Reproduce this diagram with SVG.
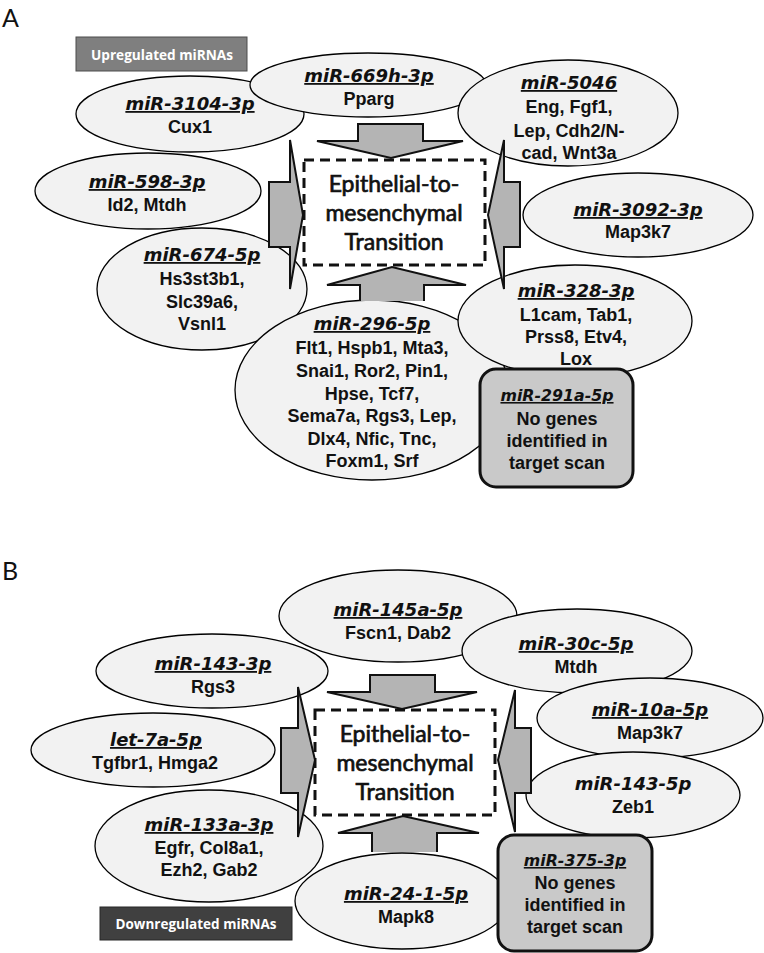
<svg xmlns="http://www.w3.org/2000/svg" width="764" height="953" viewBox="0 0 764 953">
<style>
.bg{fill:#ffffff}
.ell{fill:#f2f2f2;stroke:#000;stroke-width:1.3}
.nbox{fill:#c9c9c9;stroke:#111;stroke-width:3}
.emt{fill:#fff;stroke:#111;stroke-width:3;stroke-dasharray:10 6}
.arr{fill:#b4b4b4;stroke:#111;stroke-width:2;stroke-linejoin:miter}
.t{font-family:"DejaVu Sans",sans-serif;font-weight:bold;font-style:oblique;font-size:18px;fill:#111;text-anchor:middle;text-decoration:underline}
.tn{text-decoration:none}
.ts{font-size:15.8px}
.g{font-family:"Liberation Sans",Arial,sans-serif;font-weight:bold;font-size:18px;fill:#111;text-anchor:middle}
.c{font-family:Lato,"Open Sans",sans-serif;font-size:23px;fill:#111;stroke:#111;stroke-width:0.7;text-anchor:middle}
.lab{font-family:"Open Sans",Lato,sans-serif;font-weight:bold;font-size:14.5px;fill:#fff;text-anchor:middle}
.pl{font-family:Lato,"Open Sans",sans-serif;font-size:25px;fill:#111}
</style>
<rect class="bg" x="0" y="0" width="764" height="953"/>
<text class="pl" x="2" y="27">A</text>
<text class="pl" x="2" y="580">B</text>

<g id="up-label"><rect x="76" y="37" width="171" height="34" fill="#7f7f7f" stroke="#4d4d4d" stroke-width="1"/><text class="lab" x="162" y="60" textLength="142" lengthAdjust="spacingAndGlyphs">Upregulated miRNAs</text></g>
<g id="down-label"><rect x="100" y="907" width="192" height="33" fill="#404040" stroke="#262626" stroke-width="1"/><text class="lab" x="196" y="929" textLength="161" lengthAdjust="spacingAndGlyphs">Downregulated miRNAs</text></g>

<!-- Panel A nodes -->
<g id="A-emt"><rect class="emt" x="304" y="160" width="181" height="105"/><text class="c" x="394" y="192">Epithelial-to-</text><text class="c" x="394" y="221">mesenchymal</text><text class="c" x="394" y="250">Transition</text></g>
<g id="A-miR-3104-3p"><ellipse class="ell" cx="190" cy="114" rx="114" ry="38"/><text class="t" x="190" y="110">miR-3104-3p</text><text class="g" x="190" y="133">Cux1</text></g>
<g id="A-miR-669h-3p"><ellipse class="ell" cx="368" cy="85" rx="118" ry="32"/><text class="t" x="369" y="82">miR-669h-3p</text><text class="g" x="369" y="105">Pparg</text></g>
<g id="A-miR-5046"><ellipse class="ell" cx="568" cy="113" rx="110" ry="53"/><text class="t" x="569" y="89">miR-5046</text><text class="g" x="569" y="113">Eng, Fgf1,</text><text class="g" x="569" y="137">Lep, Cdh2/N-</text><text class="g" x="569" y="159">cad, Wnt3a</text></g>
<g id="A-miR-598-3p"><ellipse class="ell" cx="148" cy="191" rx="113" ry="38"/><text class="t" x="147" y="188">miR-598-3p</text><text class="g" x="147" y="211">Id2, Mtdh</text></g>
<g id="A-miR-3092-3p"><ellipse class="ell" cx="638" cy="215" rx="115" ry="42"/><text class="t" x="638" y="216">miR-3092-3p</text><text class="g" x="638" y="238">Map3k7</text></g>
<g id="A-miR-674-5p"><ellipse class="ell" cx="202" cy="289" rx="105" ry="61"/><text class="t" x="202" y="261">miR-674-5p</text><text class="g" x="202" y="285">Hs3st3b1,</text><text class="g" x="202" y="308">Slc39a6,</text><text class="g" x="202" y="330">Vsnl1</text></g>
<g id="A-miR-296-5p"><ellipse class="ell" cx="372" cy="390" rx="137" ry="90"/><text class="t" x="372" y="330">miR-296-5p</text><text class="g" x="372" y="354">Flt1, Hspb1, Mta3,</text><text class="g" x="372" y="377">Snai1, Ror2, Pin1,</text><text class="g" x="372" y="400">Hpse, Tcf7,</text><text class="g" x="372" y="422">Sema7a, Rgs3, Lep,</text><text class="g" x="372" y="445">Dlx4, Nfic, Tnc,</text><text class="g" x="372" y="467">Foxm1, Srf</text></g>
<g id="A-miR-328-3p"><ellipse class="ell" cx="575" cy="321" rx="117" ry="56"/><text class="t" x="576" y="297">miR-328-3p</text><text class="g" x="576" y="321">L1cam, Tab1,</text><text class="g" x="576" y="343">Prss8, Etv4,</text><text class="g" x="576" y="365">Lox</text></g>
<g id="A-miR-291a-5p"><rect class="nbox" x="480" y="369" width="153" height="118" rx="16"/><text class="t ts" x="557" y="401">miR-291a-5p</text><text class="g" x="557" y="425">No genes</text><text class="g" x="557" y="447">identified in</text><text class="g" x="557" y="469">target scan</text></g>

<!-- Panel B nodes -->
<g id="B-emt"><rect class="emt" x="315" y="710" width="180" height="105"/><text class="c" x="405" y="742">Epithelial-to-</text><text class="c" x="405" y="771">mesenchymal</text><text class="c" x="405" y="800">Transition</text></g>
<g id="B-miR-143-3p"><ellipse class="ell" cx="212" cy="671" rx="116" ry="37"/><text class="t" x="213" y="670">miR-143-3p</text><text class="g" x="213" y="693">Rgs3</text></g>
<g id="B-miR-145a-5p"><ellipse class="ell" cx="398" cy="616" rx="119" ry="46"/><text class="t" x="398" y="616">miR-145a-5p</text><text class="g" x="398" y="639">Fscn1, Dab2</text></g>
<g id="B-miR-30c-5p"><ellipse class="ell" cx="577" cy="651" rx="115" ry="42"/><text class="t" x="576" y="650">miR-30c-5p</text><text class="g" x="576" y="673">Mtdh</text></g>
<g id="B-miR-10a-5p"><ellipse class="ell" cx="650" cy="718" rx="113" ry="40"/><text class="t" x="650" y="716">miR-10a-5p</text><text class="g" x="650" y="739">Map3k7</text></g>
<g id="B-miR-143-5p"><ellipse class="ell" cx="633" cy="795" rx="107" ry="43"/><text class="t tn" x="633" y="790">miR-143-5p</text><text class="g" x="633" y="813">Zeb1</text></g>
<g id="B-let-7a-5p"><ellipse class="ell" cx="153" cy="750" rx="122" ry="37"/><text class="t" x="156" y="746">let-7a-5p</text><text class="g" x="155" y="769">Tgfbr1, Hmga2</text></g>
<g id="B-miR-133a-3p"><ellipse class="ell" cx="209" cy="846" rx="114" ry="56"/><text class="t" x="209" y="831">miR-133a-3p</text><text class="g" x="209" y="854">Egfr, Col8a1,</text><text class="g" x="209" y="876">Ezh2, Gab2</text></g>
<g id="B-miR-24-1-5p"><ellipse class="ell" cx="402" cy="901" rx="107" ry="48"/><text class="t" x="406" y="900">miR-24-1-5p</text><text class="g" x="406" y="923">Mapk8</text></g>
<g id="B-miR-375-3p"><rect class="nbox" x="498" y="835" width="154" height="116" rx="16"/><text class="t ts" x="575" y="866">miR-375-3p</text><text class="g" x="575" y="889">No genes</text><text class="g" x="575" y="911">identified in</text><text class="g" x="575" y="933">target scan</text></g>

<g id="connectors">
<path class="arr" d="M358,124 H423 V141 H463 L391,158 L317,141 H358 Z"/>
<path class="arr" d="M269,182 H290 V140 L303,215 L290,289 V247 H269 Z"/>
<path class="arr" d="M520,182 H504 V140 L488,215 L504,289 V247 H520 Z"/>
<path class="arr" d="M360,301 V285 H327 L392,267 L466,285 H424 V301"/>
<path class="arr" d="M370,675 H435 V692 H477 L402,709 L327,692 H370 Z"/>
<path class="arr" d="M281,728 H298 V687 L315,760 L298,837 V793 H281 Z"/>
<path class="arr" d="M531,728 H515 V690 L498,760 L515,832 V793 H531 Z"/>
<path class="arr" d="M372,852 V833 H338 L403,816 L479,833 H437 V852"/>
</g>
</svg>
